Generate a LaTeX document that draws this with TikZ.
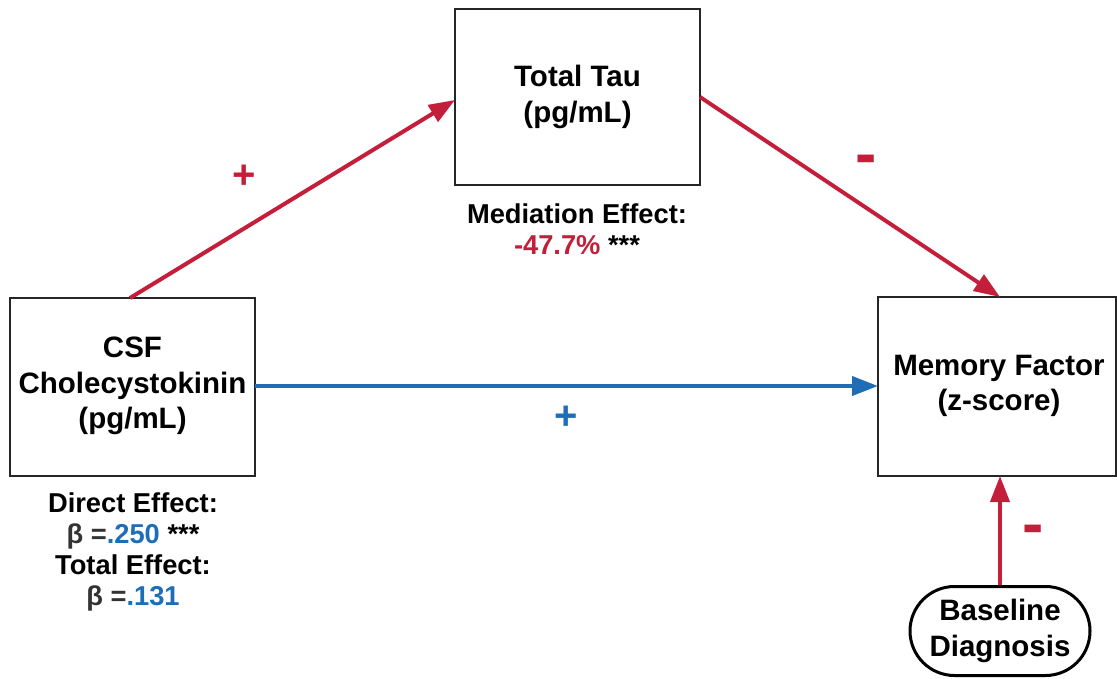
\documentclass[tikz,border=0pt]{standalone}
\usepackage{fontspec}
\setmainfont{Liberation Sans}
\usetikzlibrary{arrows.meta,shapes.misc}
\definecolor{cred}{HTML}{C41E3A}
\definecolor{cblue}{HTML}{1F6DB5}
\begin{document}
\begin{tikzpicture}[x=1pt,y=-1pt,
  box/.style={draw=black!85,line width=2pt,fill=white},
  lbl/.style={font=\fontsize{29.5}{35.5}\selectfont\bfseries,align=center},
  eff/.style={font=\fontsize{27.3}{31}\selectfont\bfseries,align=center},
  plus/.style={font=\fontsize{40}{40}\selectfont\bfseries},
  minus/.style={font=\fontsize{64}{64}\selectfont\bfseries},
  rarrow/.style={draw=cred,line width=4pt,-{Triangle[length=26pt,width=19pt]}},
  barrow/.style={draw=cblue,line width=4pt,-{Triangle[length=26pt,width=19pt]}}]
\useasboundingbox (0,0) rectangle (1117,679);
\path[box] (455,9) rectangle (700,185);
\node[lbl] (tau) at (577.5,97) {Total Tau\\(pg/mL)};
\coordinate (tauL) at (455,100);
\coordinate (tauR) at (700,97);
\path[box] (10,298) rectangle (255,476);
\node[lbl] (csf) at (132.5,386) {CSF\\Cholecystokinin\\(pg/mL)};
\coordinate (csfT) at (130,298);
\coordinate (csfR) at (255,386);
\path[box] (878,297) rectangle (1116,476);
\node[lbl] (mem) at (999,386) {Memory Factor\\(z-score)};
\coordinate (memT) at (1000,297);
\coordinate (memL) at (878,386);
\coordinate (memB) at (1000,476);
\node[draw=black,line width=3pt,rounded rectangle,minimum width=180pt,minimum height=89pt,inner sep=0pt,lbl] (bd) at (1000,631) {Baseline\\Diagnosis};
\draw[rarrow] (csfT) -- (tauL);
\draw[rarrow] (tauR) -- (memT);
\draw[barrow] (csfR) -- (memL);
\draw[rarrow] (bd.north) -- (memB);
\node[plus,text=cred] (p1) at (244,177) {+};
\node[minus,text=cred] (m1) at (866,165) {-};
\node[plus,text=cblue] (p2) at (566,418) {+};
\node[minus,text=cred] (m2) at (1033,535) {-};
\node[eff] (med) at (577,229) {Mediation Effect:\\\textcolor{cred}{-47.7\%} ***};
\node[eff] (dir) at (133,552) {Direct Effect:\\\textcolor{black!80}{β =}\textcolor{cblue}{.250} ***\\Total Effect:\\\textcolor{black!80}{β =}\textcolor{cblue}{.131}};
\end{tikzpicture}
\end{document}
